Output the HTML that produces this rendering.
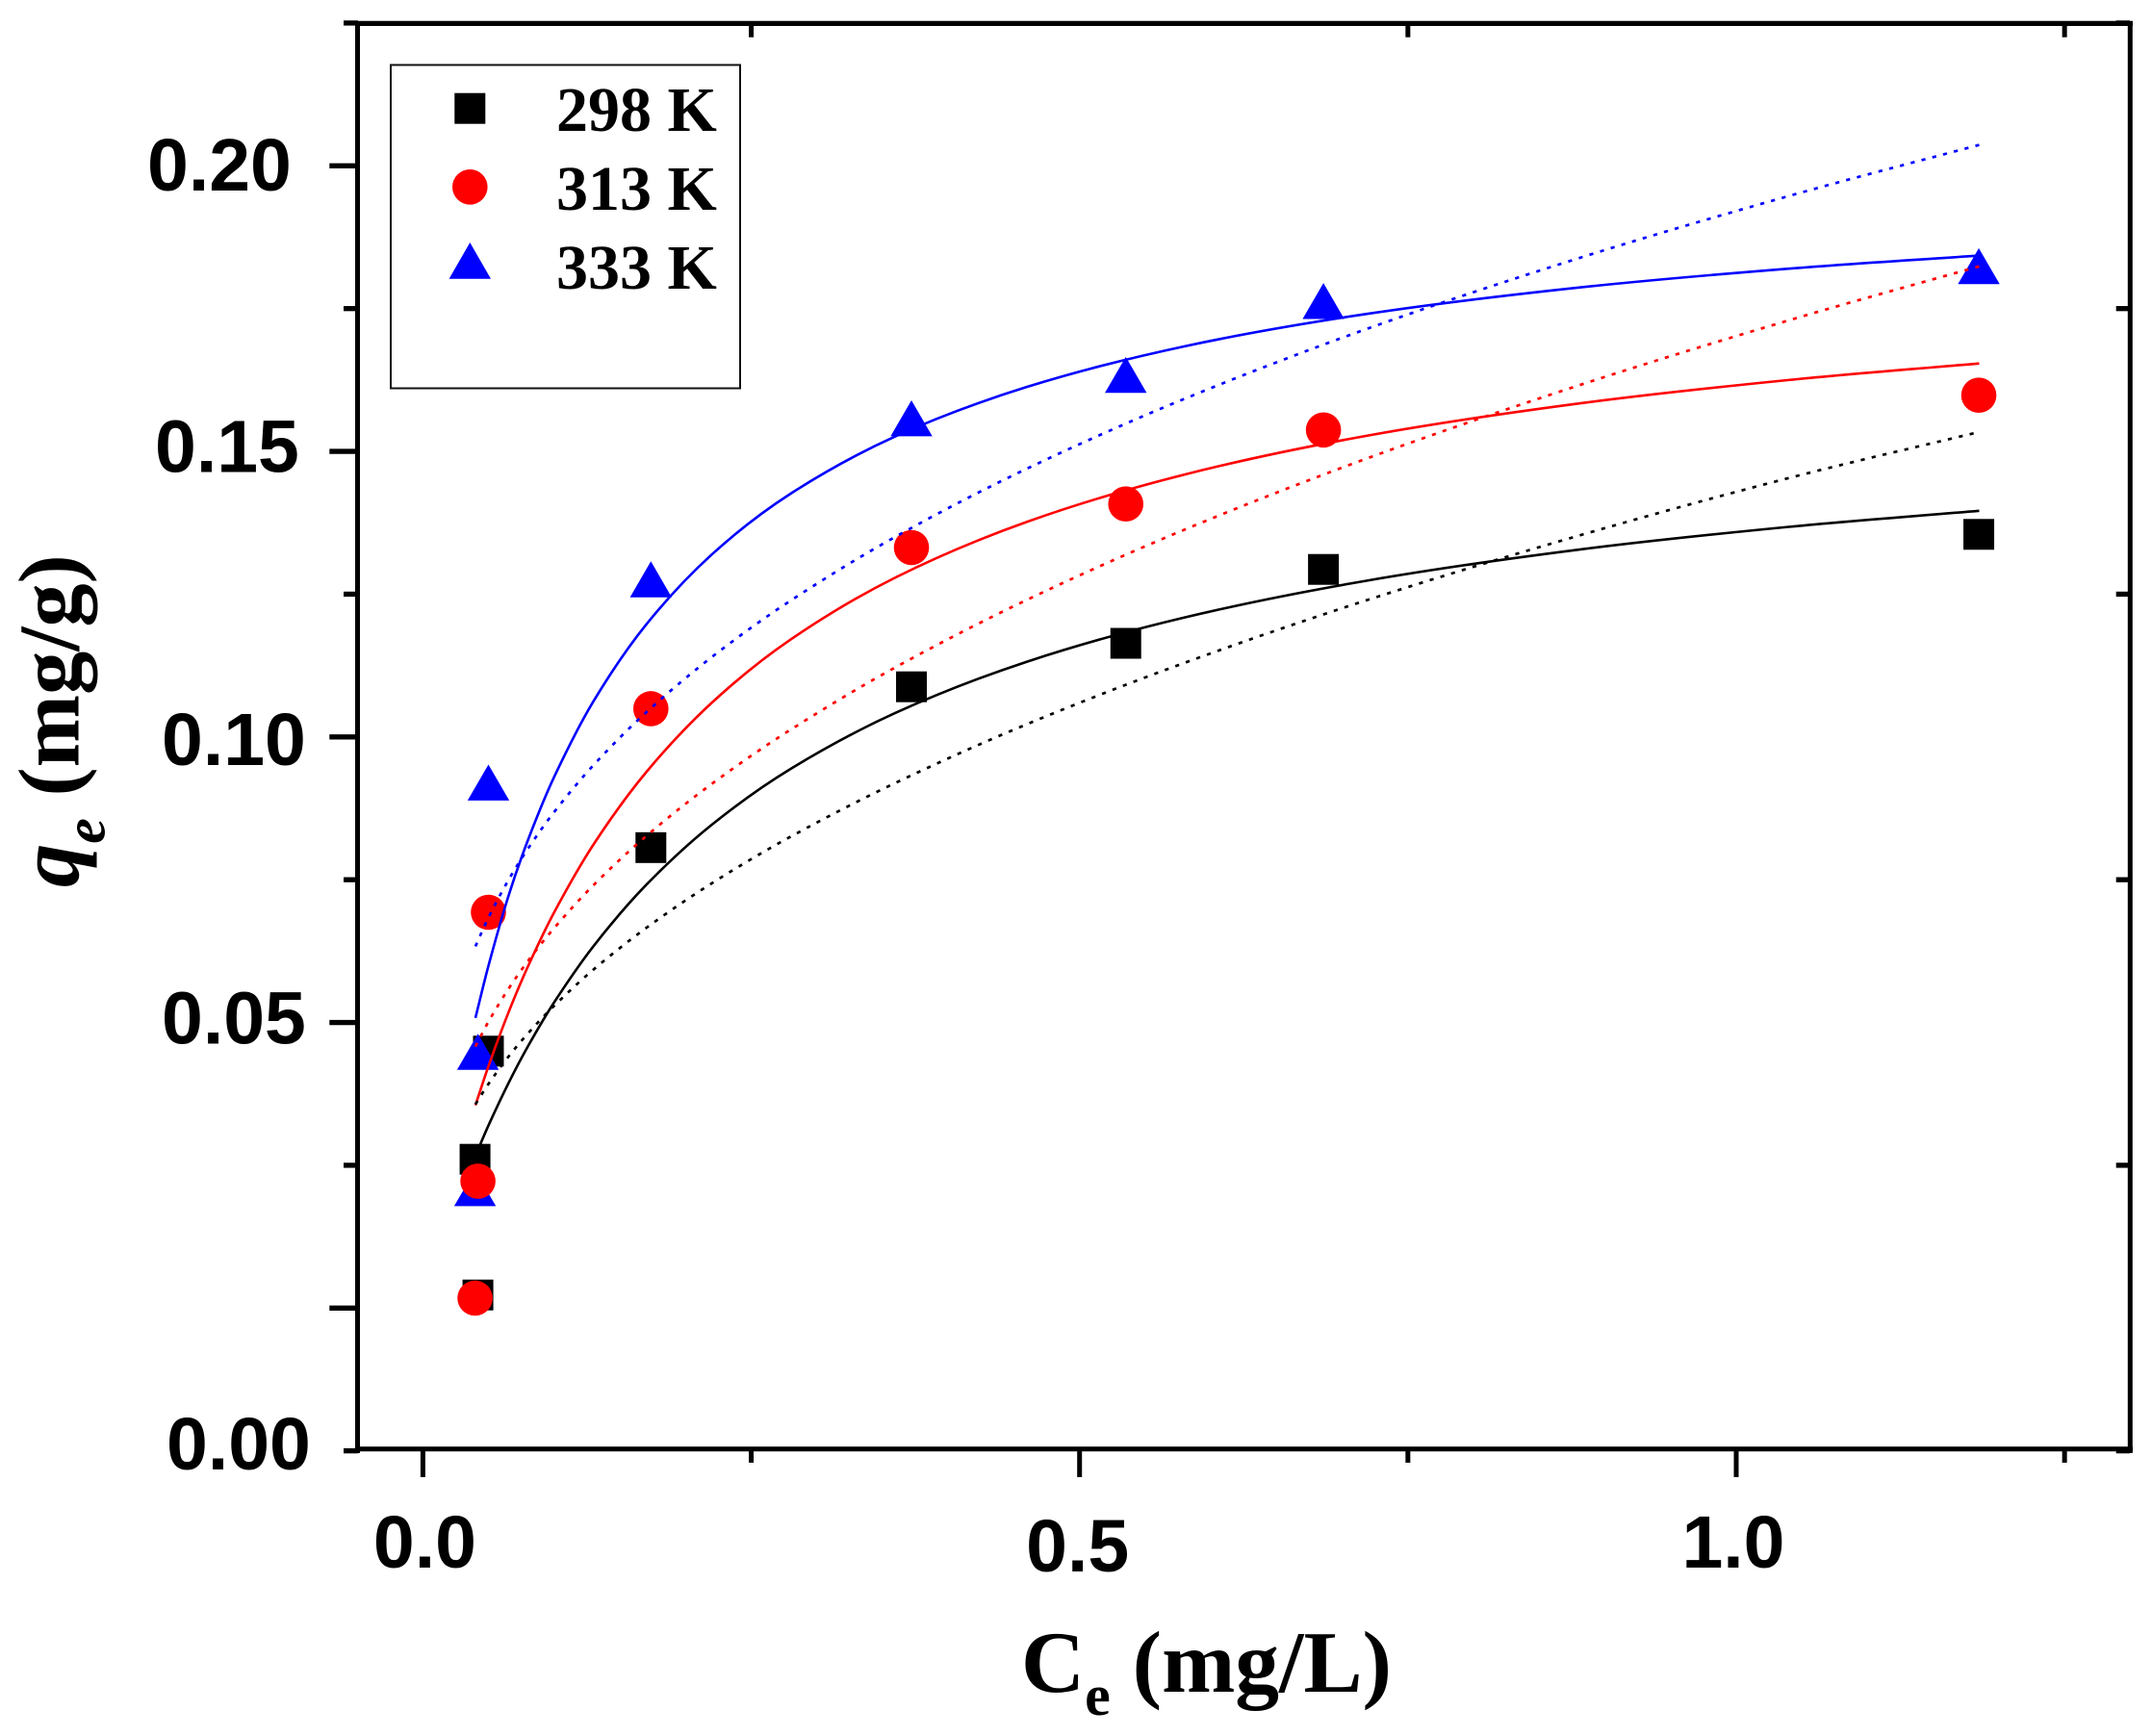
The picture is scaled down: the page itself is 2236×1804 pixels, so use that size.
<!DOCTYPE html>
<html lang="en">
<head>
<meta charset="utf-8">
<title>Adsorption isotherms</title>
<style>
html,body{margin:0;padding:0;background:#fff;}
svg{display:block;}
.serif{font-family:"Liberation Serif",serif;font-weight:bold;fill:#000;}
.sans{font-family:"Liberation Sans",sans-serif;font-weight:bold;fill:#000;font-size:77px;}
</style>
</head>
<body>
<svg id="chart" xmlns="http://www.w3.org/2000/svg" width="2236" height="1804" viewBox="0 0 2236 1804">
  <rect x="0" y="0" width="2236" height="1804" fill="#fff"/>
  <g id="marks"></g>
  <g id="axes"></g>
  <g>
    <rect x="406" y="67.5" width="363" height="336" fill="none" stroke="#111" stroke-width="2"/>
    <rect x="472.3" y="96.7" width="32" height="32" fill="#000"/>
    <circle cx="488.3" cy="194.3" r="18.3" fill="#f00"/>
    <polygon points="488.3,252 510,289.7 466.6,289.7" fill="#00f"/>
    <text class="serif" x="578" y="136" font-size="66">298 K</text>
    <text class="serif" x="578" y="218" font-size="66">313 K</text>
    <text class="serif" x="578" y="300" font-size="66">333 K</text>
  </g>
  <text class="serif" x="1061" y="1758" font-size="91.5">C<tspan font-size="60" dy="24">e</tspan><tspan dy="-24"> (mg/L)</tspan></text>
  <text class="serif" transform="translate(81.5,922) rotate(-90)" font-size="90.5"><tspan font-style="italic">q</tspan><tspan font-style="italic" font-size="60" dy="27">e</tspan><tspan dy="-27"> (mg/g)</tspan></text>
</svg>
<script>
// Measured points: equilibrium concentration (mg/L) and uptake (mg/g)
const ce298 = [0.0419, 0.0397, 0.0499, 0.1736, 0.3720, 0.5352, 0.6857, 1.1847];
const qe298 = [0.00229, 0.02605, 0.04499, 0.08062, 0.10878, 0.11639, 0.12933, 0.13547];
const ce313 = [0.0397, 0.0419, 0.0499, 0.1736, 0.3720, 0.5352, 0.6857, 1.1847];
const qe313 = [0.00174, 0.02222, 0.06930, 0.10494, 0.13316, 0.14079, 0.15375, 0.15983];
const ce333 = [0.0397, 0.0419, 0.0499, 0.1736, 0.3720, 0.5352, 0.6857, 1.1847];
const qe333 = [0.02099, 0.04487, 0.09201, 0.12760, 0.15579, 0.16340, 0.17633, 0.18243];

// Fit curves at these concentrations
const fitCe = [0.04, 0.05, 0.065, 0.08, 0.10, 0.13, 0.17, 0.22, 0.28, 0.36, 0.46, 0.58, 0.72, 0.88, 1.04, 1.185];
const solid298 = [0.02665, 0.03201, 0.03930, 0.04584, 0.05355, 0.06340, 0.07409, 0.08463, 0.09441, 0.10423, 0.11318, 0.12092, 0.12741, 0.13279, 0.13678, 0.13960];
const solid313 = [0.03551, 0.04240, 0.05166, 0.05982, 0.06931, 0.08120, 0.09382, 0.10599, 0.11706, 0.12794, 0.13767, 0.14595, 0.15279, 0.15838, 0.16250, 0.16540];
const solid333 = [0.05080, 0.06000, 0.07204, 0.08194, 0.09302, 0.10629, 0.11967, 0.13195, 0.14260, 0.15265, 0.16129, 0.16840, 0.17411, 0.17868, 0.18199, 0.18428];
const dotted298 = [0.03567, 0.03927, 0.04397, 0.04809, 0.05294, 0.05929, 0.06655, 0.07438, 0.08254, 0.09197, 0.10224, 0.11298, 0.12404, 0.13524, 0.14533, 0.15340];
const dotted313 = [0.04580, 0.05017, 0.05583, 0.06076, 0.06655, 0.07407, 0.08263, 0.09179, 0.10127, 0.11221, 0.12401, 0.13630, 0.14886, 0.16155, 0.17294, 0.18240];
const dotted333 = [0.06333, 0.06841, 0.07488, 0.08043, 0.08687, 0.09509, 0.10429, 0.11399, 0.12387, 0.13507, 0.14698, 0.15921, 0.17155, 0.18382, 0.19471, 0.20366];

// Axis ticks and printed labels
const xMajorTicks = [0, 0.5, 1.0];
const xMinorTicks = [0.25, 0.75, 1.25];
const xTickLabels = ["0.0", "0.5", "1.0"];
const yMajorTicks = [0, 0.05, 0.10, 0.15, 0.20];
const yMinorTicks = [-0.025, 0.025, 0.075, 0.125, 0.175, 0.225];
const yLabelValues = [-0.025, 0.05, 0.10, 0.15, 0.20];
const yTickLabels = ["0.00", "0.05", "0.10", "0.15", "0.20"];

const NS = "http://www.w3.org/2000/svg";
const xScale = function (v) { return 439.4 + v * 1364.6; };
const yScale = function (v) { return 1359.3 - v * 5935; };

// Hand-placed label offsets seen in the reference (layout only)
const yLabelLeft = [173, 168, 168, 161, 153];
const yLabelDrop = [19.5, 21.7, 29, 21.5, 25.7];
const xLabelDx = [2, -2, -3];
const xLabelBaselines = [1629, 1633, 1629];

const marks = document.getElementById("marks");
const axes = document.getElementById("axes");

function make(tag, parent, attrs) {
  const node = document.createElementNS(NS, tag);
  Object.keys(attrs).forEach(function (k) { node.setAttribute(k, attrs[k]); });
  parent.appendChild(node);
  return node;
}

function tickLine(x1, y1, x2, y2, width) {
  return make("line", axes, { x1: x1, y1: y1, x2: x2, y2: y2, stroke: "#000", "stroke-width": width });
}

function smoothPath(xs, ys) {
  const px = xs.map(xScale);
  const py = ys.map(yScale);
  let d = "M" + px[0].toFixed(2) + " " + py[0].toFixed(2);
  for (let i = 0; i < px.length - 1; i++) {
    const a = Math.max(i - 1, 0), b = Math.min(i + 2, px.length - 1);
    const h = px[i + 1] - px[i];
    const m0 = (py[i + 1] - py[a]) / (px[i + 1] - px[a]);
    const m1 = (py[b] - py[i]) / (px[b] - px[i]);
    d += "C" + (px[i] + h / 3).toFixed(2) + " " + (py[i] + m0 * h / 3).toFixed(2) + " " +
         (px[i + 1] - h / 3).toFixed(2) + " " + (py[i + 1] - m1 * h / 3).toFixed(2) + " " +
         px[i + 1].toFixed(2) + " " + py[i + 1].toFixed(2);
  }
  return d;
}

// Fit the dash period so a dash lands on the visible end of the line
function fitDash(path, trim) {
  const dash = 4.2;
  const usable = path.getTotalLength() - trim - dash;
  const period = usable / Math.round(usable / 11.6);
  path.setAttribute("stroke-dasharray", dash + " " + (period - dash).toFixed(3));
}

// Markers, bottom to top: squares, triangles, circles
ce298.forEach(function (c, i) {
  const s = make("rect", marks, { x: xScale(c) - 16, y: yScale(qe298[i]) - 16, width: 32, height: 32, fill: "#000" });
  
  
});
ce333.forEach(function (c, i) {
  const px = xScale(c), py = yScale(qe333[i]);
  const t = make("polygon", marks, { points: px + "," + (py - 18.7) + " " + (px + 21.7) + "," + (py + 18.7) + " " + (px - 21.7) + "," + (py + 18.7), fill: "#00f" });
  
  
});
ce313.forEach(function (c, i) {
  const o = make("circle", marks, { cx: xScale(c), cy: yScale(qe313[i]), r: 18.3, fill: "#f00" });
  
  
});

// Fit curves
const solidBlack = make("path", marks, { d: smoothPath(fitCe, solid298), fill: "none", stroke: "#000", "stroke-width": 2.6 });


const solidRed = make("path", marks, { d: smoothPath(fitCe, solid313), fill: "none", stroke: "#f00", "stroke-width": 2.6 });


const solidBlue = make("path", marks, { d: smoothPath(fitCe, solid333), fill: "none", stroke: "#00f", "stroke-width": 2.6 });


const dottedBlack = make("path", marks, { d: smoothPath(fitCe, dotted298), fill: "none", stroke: "#000", "stroke-width": 2.7 });


fitDash(dottedBlack, 6);
const dottedRed = make("path", marks, { d: smoothPath(fitCe, dotted313), fill: "none", stroke: "#f00", "stroke-width": 2.7 });


fitDash(dottedRed, 0);
const dottedBlue = make("path", marks, { d: smoothPath(fitCe, dotted333), fill: "none", stroke: "#00f", "stroke-width": 2.7 });


fitDash(dottedBlue, 0);

// Frame
const spineLeft = tickLine(371.5, 22, 371.5, 1510, 5);


const spineBottom = tickLine(369, 1505.7, 2216, 1505.7, 5);


const spineRight = tickLine(2213.3, 22, 2213.3, 1510, 5);


const spineTop = tickLine(369, 24.4, 2216, 24.4, 5.3);



// X ticks
xMajorTicks.forEach(function (v) {
  const t = tickLine(xScale(v), 1505, xScale(v), 1535, 5);
  
  
});
xMinorTicks.forEach(function (v) {
  const t = tickLine(xScale(v), 1505, xScale(v), 1520, 5);
  
  
  const u = tickLine(xScale(v), 25, xScale(v), 38.7, 5);
  
  
});
xTickLabels.forEach(function (label, i) {
  const t = make("text", axes, { x: xScale(xMajorTicks[i]) + xLabelDx[i], y: xLabelBaselines[i], "text-anchor": "middle", class: "sans" });
  t.textContent = label;
  
  
});

// Y ticks
yMajorTicks.forEach(function (v) {
  const t = tickLine(342.3, yScale(v), 372, yScale(v), 5.3);
  
  
});
yMinorTicks.forEach(function (v) {
  const t = tickLine(357, yScale(v), 372, yScale(v), 5.3);
  
  
  const u = tickLine(2198.7, yScale(v), 2213, yScale(v), 5.3);
  
  
});
yTickLabels.forEach(function (label, i) {
  const t = make("text", axes, { x: yLabelLeft[i], y: yScale(yLabelValues[i]) + yLabelDrop[i], class: "sans" });
  t.textContent = label;
  
  
});
</script>
</body>
</html>
